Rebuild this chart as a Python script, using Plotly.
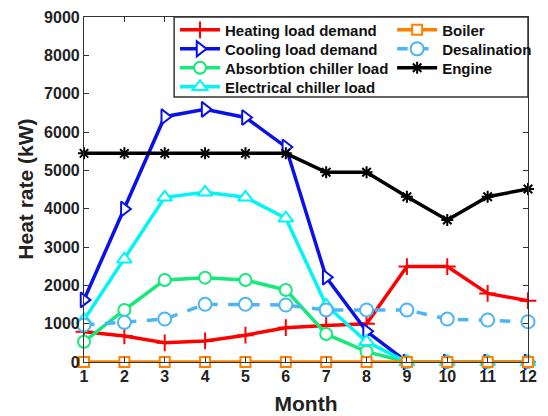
import plotly.graph_objects as go

months = list(range(1, 13))
y_ticks = list(range(0, 9001, 1000))

heating_load = [790, 680, 500, 550, 700, 895, 955, 1000, 2490, 2490, 1790, 1600]
cooling_load = [1620, 3990, 6400, 6590, 6380, 5610, 2210, 800, 0, 0, 0, 0]
absorption_chiller = [530, 1357, 2140, 2200, 2140, 1880, 730, 270, 0, 0, 0, 0]
electrical_chiller = [1100, 2680, 4297, 4427, 4297, 3750, 1480, 530, 0, 0, 0, 0]
boiler = [0, 0, 0, 0, 0, 0, 0, 0, 0, 0, 0, 0]
desalination = [965, 1035, 1120, 1505, 1505, 1487, 1357, 1357, 1357, 1120, 1096, 1050]
engine = [5443, 5443, 5443, 5443, 5443, 5443, 4950, 4950, 4313, 3705, 4313, 4513]

FONT = "Liberation Sans, Arial, sans-serif"

series = [
    # name, values, colour, marker symbol, dash, marker size
    ("Heating load demand", heating_load, "#FF0000", "cross-thin-open", "solid", 12),
    ("Cooling load demand", cooling_load, "#0A10E8", "triangle-right", "solid", 13),
    ("Absorbtion chiller load", absorption_chiller, "#16E87A", "circle", "solid", 12),
    ("Electrical chiller load", electrical_chiller, "#00F5F5", "triangle-up", "solid", 13),
    ("Boiler", boiler, "#FF8000", "square", "solid", 10),
    ("Desalination", desalination, "#4DB5F5", "circle", "dash", 13),
    ("Engine", engine, "#000000", "asterisk-open", "solid", 10),
]

# Two legend columns (4 + 3 rows); one legend per entry for tight row spacing
col_x = [0.205, 0.694]
row_y = [0.962, 0.907, 0.852, 0.797]
slots = [(0, 0), (0, 1), (0, 2), (0, 3), (1, 0), (1, 1), (1, 2)]

fig = go.Figure()
layout_legends = {}
for i, (name, vals, color, sym, dash, msize) in enumerate(series):
    if sym.endswith("-open"):
        marker = dict(symbol=sym, size=msize, line=dict(color=color, width=2), color=color)
    else:
        marker = dict(symbol=sym, size=msize, color="white", line=dict(color=color, width=2))
    leg = "legend" if i == 0 else f"legend{i + 1}"
    fig.add_trace(go.Scatter(
        x=months, y=vals, name=f"<b>{name}</b>", mode="lines+markers",
        line=dict(color=color, width=3.5, dash=dash),
        marker=marker, legend=leg, cliponaxis=False, showlegend=True,
    ))
    c, r = slots[i]
    layout_legends[leg] = dict(
        bgcolor="rgba(0,0,0,0)", borderwidth=0,
        x=col_x[c], xanchor="left", y=row_y[r], yanchor="middle",
        font=dict(family=FONT, size=15, color="#111111"),
        itemwidth=40,
    )

# Frame around the legend entries
fig.add_shape(type="rect", xref="paper", yref="paper",
              x0=0.203, x1=1.0, y0=0.768, y1=1.0,
              line=dict(color="#333333", width=1.5), fillcolor="white", layer="above")

tick_font = dict(family=FONT, size=16, color="#222222")
title_font = dict(family=FONT, size=21, color="#222222")

fig.update_layout(
    width=548, height=416,
    margin=dict(l=84, r=11, t=17, b=54),
    paper_bgcolor="white", plot_bgcolor="white",
    font=dict(family=FONT, color="#222222"),
    showlegend=True,
    xaxis=dict(
        range=[1, 12], tickmode="array", tickvals=months,
        ticktext=[f"<b>{m}</b>" for m in months],
        ticks="inside", ticklen=5, tickcolor="#333333",
        showline=True, linecolor="#333333", linewidth=1.2, mirror="ticks",
        showgrid=False, zeroline=False, tickfont=tick_font, automargin=False,
        title=dict(text="<b>Month</b>", font=title_font, standoff=12),
    ),
    yaxis=dict(
        range=[0, 9000], tickmode="array", tickvals=y_ticks,
        ticktext=[f"<b>{v}</b>" for v in y_ticks],
        ticks="inside", ticklen=5, tickcolor="#333333",
        showline=True, linecolor="#333333", linewidth=1.2, mirror="ticks",
        showgrid=False, zeroline=False, tickfont=tick_font, automargin=False,
    ),
    annotations=[dict(
        text="<b>Heat rate (kW)</b>", textangle=-90, showarrow=False,
        xref="paper", yref="paper", x=-0.1325, y=0.5,
        xanchor="center", yanchor="middle", font=title_font,
    )],
    **layout_legends,
)

fig.write_html("out.html")
